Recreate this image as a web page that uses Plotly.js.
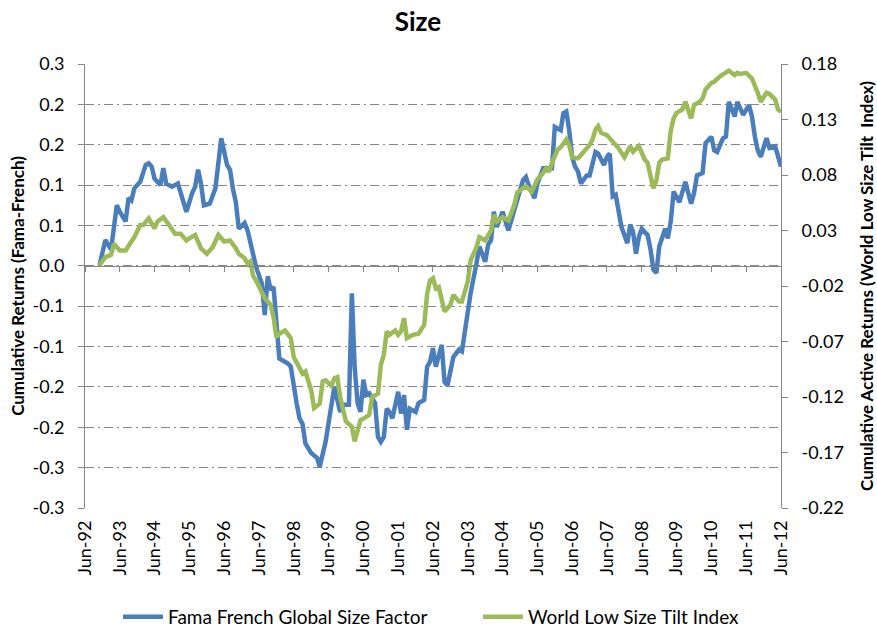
<!DOCTYPE html>
<html>
<head>
<meta charset="utf-8">
<script src="https://cdn.plot.ly/plotly-3.0.1.min.js"></script>
<style>
html,body{margin:0;padding:0;background:#fff;}
#chart{width:877px;height:629px;}
</style>
</head>
<body>
<div id="chart"></div>
<script>
// ---- Data ----
const famaDates = ["1992-11","1993-01","1993-03","1993-05","1993-06","1993-08","1993-09","1993-10","1993-11","1994-01","1994-03","1994-04","1994-05","1994-06","1994-08","1994-09","1994-10","1994-12","1995-02","1995-04","1995-05","1995-07","1995-08","1995-09","1995-10","1995-11","1996-01","1996-03","1996-04","1996-05","1996-07","1996-08","1996-09","1996-10","1996-11","1997-01","1997-02","1997-03","1997-05","1997-07","1997-08","1997-09","1997-10","1997-11","1997-12","1998-01","1998-02","1998-04","1998-05","1998-06","1998-07","1998-08","1998-09","1998-10","1998-11","1998-12","1999-02","1999-03","1999-05","1999-07","1999-08","1999-10","1999-11","2000-01","2000-02","2000-03","2000-04","2000-05","2000-06","2000-07","2000-08","2000-10","2000-11","2000-12","2001-01","2001-02","2001-03","2001-04","2001-06","2001-07","2001-08","2001-09","2001-10","2001-12","2002-01","2002-03","2002-04","2002-05","2002-06","2002-07","2002-09","2002-10","2002-11","2003-01","2003-03","2003-04","2003-06","2003-07","2003-09","2003-10","2003-12","2004-01","2004-02","2004-03","2004-04","2004-06","2004-08","2004-10","2004-11","2005-01","2005-02","2005-03","2005-05","2005-06","2005-08","2005-11","2005-12","2006-02","2006-03","2006-04","2006-05","2006-06","2006-07","2006-08","2006-09","2006-11","2006-12","2007-01","2007-02","2007-03","2007-04","2007-05","2007-06","2007-07","2007-08","2007-09","2007-11","2007-12","2008-01","2008-02","2008-03","2008-04","2008-05","2008-06","2008-08","2008-09","2008-10","2008-11","2008-12","2009-02","2009-03","2009-04","2009-05","2009-07","2009-08","2009-09","2009-11","2009-12","2010-01","2010-03","2010-04","2010-05","2010-06","2010-07","2010-08","2010-10","2010-11","2010-12","2011-02","2011-03","2011-04","2011-05","2011-07","2011-08","2011-09","2011-10","2011-11","2012-01","2012-02","2012-04","2012-06"];
const famaValues = [0.001,0.032,0.020,0.075,0.067,0.055,0.084,0.081,0.096,0.104,0.125,0.127,0.123,0.108,0.100,0.121,0.102,0.098,0.102,0.081,0.067,0.090,0.098,0.119,0.102,0.075,0.077,0.096,0.123,0.158,0.125,0.119,0.095,0.079,0.046,0.053,0.044,0.028,-0.001,-0.022,-0.061,-0.013,-0.030,-0.026,-0.080,-0.115,-0.117,-0.121,-0.125,-0.150,-0.170,-0.189,-0.196,-0.220,-0.226,-0.232,-0.238,-0.249,-0.218,-0.170,-0.150,-0.181,-0.172,-0.172,-0.034,-0.125,-0.170,-0.181,-0.141,-0.160,-0.158,-0.170,-0.212,-0.218,-0.212,-0.177,-0.181,-0.189,-0.156,-0.183,-0.160,-0.203,-0.177,-0.181,-0.170,-0.166,-0.125,-0.119,-0.102,-0.125,-0.098,-0.144,-0.148,-0.113,-0.104,-0.106,-0.060,-0.034,0.003,0.024,0.005,0.026,0.032,0.067,0.048,0.067,0.044,0.069,0.082,0.106,0.110,0.100,0.084,0.102,0.121,0.121,0.172,0.168,0.189,0.191,0.168,0.135,0.123,0.117,0.102,0.112,0.112,0.127,0.141,0.139,0.130,0.125,0.135,0.139,0.086,0.088,0.048,0.036,0.028,0.051,0.042,0.015,0.036,0.046,0.038,0.020,-0.005,-0.009,0.024,0.046,0.034,0.055,0.092,0.079,0.094,0.104,0.077,0.090,0.112,0.115,0.152,0.156,0.160,0.143,0.141,0.158,0.160,0.203,0.185,0.203,0.193,0.187,0.199,0.185,0.160,0.143,0.135,0.158,0.146,0.148,0.123];

const tiltDates = ["1992-11","1993-01","1993-03","1993-04","1993-06","1993-08","1993-10","1993-11","1994-01","1994-02","1994-04","1994-06","1994-07","1994-09","1994-11","1995-01","1995-03","1995-05","1995-06","1995-08","1995-10","1995-12","1996-02","1996-04","1996-06","1996-08","1996-10","1996-11","1997-01","1997-02","1997-03","1997-04","1997-05","1997-07","1997-08","1997-10","1997-11","1997-12","1998-01","1998-03","1998-05","1998-06","1998-08","1998-09","1998-10","1998-12","1999-01","1999-03","1999-04","1999-05","1999-07","1999-08","1999-09","1999-10","1999-12","2000-02","2000-03","2000-05","2000-07","2000-08","2000-09","2000-11","2000-12","2001-01","2001-02","2001-03","2001-05","2001-06","2001-07","2001-08","2001-09","2001-11","2002-01","2002-03","2002-04","2002-05","2002-06","2002-07","2002-08","2002-10","2002-12","2003-01","2003-03","2003-04","2003-06","2003-07","2003-09","2003-10","2003-12","2004-02","2004-03","2004-04","2004-06","2004-08","2004-10","2004-11","2005-01","2005-02","2005-04","2005-06","2005-08","2005-09","2005-10","2005-11","2006-01","2006-02","2006-04","2006-05","2006-06","2006-08","2006-09","2006-10","2006-12","2007-01","2007-02","2007-03","2007-04","2007-06","2007-07","2007-09","2007-10","2007-12","2008-02","2008-03","2008-04","2008-05","2008-07","2008-08","2008-09","2008-10","2008-11","2008-12","2009-01","2009-03","2009-04","2009-05","2009-06","2009-08","2009-09","2009-10","2009-11","2009-12","2010-02","2010-03","2010-04","2010-06","2010-07","2010-09","2010-11","2010-12","2011-02","2011-03","2011-04","2011-06","2011-08","2011-09","2011-10","2011-11","2011-12","2012-01","2012-02","2012-04","2012-05","2012-06"];
const tiltValues = [-0.001,0.006,0.008,0.018,0.012,0.012,0.020,0.024,0.035,0.035,0.041,0.032,0.038,0.042,0.035,0.027,0.027,0.021,0.023,0.026,0.014,0.009,0.015,0.026,0.020,0.021,0.014,0.009,0.005,0.000,0.002,-0.011,-0.015,-0.027,-0.031,-0.037,-0.048,-0.066,-0.063,-0.060,-0.067,-0.084,-0.094,-0.099,-0.097,-0.114,-0.130,-0.126,-0.106,-0.105,-0.110,-0.103,-0.102,-0.120,-0.142,-0.147,-0.160,-0.141,-0.138,-0.136,-0.120,-0.117,-0.091,-0.082,-0.061,-0.064,-0.060,-0.064,-0.061,-0.049,-0.067,-0.064,-0.063,-0.055,-0.027,-0.015,-0.013,-0.022,-0.021,-0.043,-0.037,-0.028,-0.034,-0.034,-0.016,0.003,0.015,0.024,0.021,0.030,0.044,0.038,0.042,0.039,0.053,0.064,0.068,0.070,0.065,0.076,0.082,0.086,0.083,0.091,0.103,0.105,0.112,0.107,0.096,0.095,0.098,0.101,0.107,0.112,0.121,0.124,0.118,0.116,0.113,0.106,0.104,0.096,0.106,0.101,0.104,0.106,0.094,0.091,0.079,0.068,0.075,0.091,0.094,0.095,0.120,0.131,0.136,0.139,0.146,0.139,0.131,0.143,0.146,0.149,0.157,0.163,0.164,0.169,0.172,0.174,0.170,0.172,0.171,0.172,0.167,0.161,0.154,0.146,0.150,0.154,0.153,0.148,0.139,0.137];

const xTickDates = ["1992-06-01","1993-06-01","1994-06-01","1995-06-01","1996-06-01","1997-06-01","1998-06-01","1999-06-01","2000-06-01","2001-06-01","2002-06-01","2003-06-01","2004-06-01","2005-06-01","2006-06-01","2007-06-01","2008-06-01","2009-06-01","2010-06-01","2011-06-01","2012-06-01"];
const leftTickVals = [-0.3,-0.25,-0.2,-0.15,-0.1,-0.05,0,0.05,0.1,0.15,0.2,0.25];
const leftTickText = ["-0.3","-0.3","-0.2","-0.2","-0.1","-0.1","0.0","0.1","0.1","0.2","0.2","0.3"];
const rightTickVals = [-0.22,-0.17,-0.12,-0.07,-0.02,0.03,0.08,0.13,0.18];
const rightTickText = ["-0.22","-0.17","-0.12","-0.07","-0.02","0.03","0.08","0.13","0.18"];

const seriesNames = ["Fama French Global Size Factor","World Low Size Tilt Index"];

// ---- Styling ----
const FONT = "Lato, 'Open Sans', sans-serif";
const AXIS_GRAY = "#868686";
const xRange = ["1992-06-01","2012-06-01"];
const leftRange = [-0.3, 0.25];

const traces = [
  {x: famaDates, y: famaValues, name: seriesNames[0], type: "scatter", mode: "lines",
   line: {color: "#4A7EBB", width: 4.5}, xaxis: "x", yaxis: "y", legend: "legend"},
  {x: tiltDates, y: tiltValues, name: seriesNames[1], type: "scatter", mode: "lines",
   line: {color: "#9BBB59", width: 4.5}, xaxis: "x", yaxis: "y2", legend: "legend2"},
  // invisible helper so the zero-crossing axis (x3) is drawn
  {x: xRange, y: [0, 0], type: "scatter", mode: "lines", line: {width: 0},
   xaxis: "x3", yaxis: "y", showlegend: false, hoverinfo: "skip"}
];

const zeroFrac = (0 - leftRange[0]) / (leftRange[1] - leftRange[0]);
const legendFont = {family: FONT, size: 19, color: "#000"};

const layout = {
  width: 877, height: 629,
  margin: {l: 85, r: 96, t: 64, b: 121, autoexpand: false},
  paper_bgcolor: "#fff", plot_bgcolor: "#fff",
  font: {family: FONT, size: 18, color: "#000"},
  title: {text: "<b>Size</b>", font: {family: FONT, size: 26, color: "#000"},
          x: 418/877, xanchor: "center", y: 1 - 22/629, yanchor: "middle"},
  showlegend: true,
  legend: {orientation: "h", x: (118 - 85) / 696, xanchor: "left", y: -0.245, yanchor: "middle",
           font: legendFont, itemwidth: 40},
  legend2: {orientation: "h", x: (478 - 85) / 696, xanchor: "left", y: -0.245, yanchor: "middle",
            font: legendFont, itemwidth: 40},
  xaxis: {type: "date", range: xRange, tickvals: xTickDates, tickformat: "%b-%y",
          tickangle: -90, ticks: "", showline: false, showgrid: false, zeroline: false,
          ticklabelstandoff: 8, automargin: false,
          tickfont: {family: FONT, size: 18, color: "#000"}, fixedrange: true},
  xaxis3: {type: "date", overlaying: "x", matches: "x", anchor: "free", position: zeroFrac,
           tickvals: xTickDates, showticklabels: false, ticks: "outside", ticklen: 5,
           tickcolor: AXIS_GRAY, showline: true, linecolor: AXIS_GRAY, linewidth: 1,
           showgrid: false, zeroline: false},
  yaxis: {range: leftRange, tickvals: leftTickVals, ticktext: leftTickText,
          showline: true, linecolor: AXIS_GRAY, linewidth: 1, ticks: "outside", ticklen: 6,
          tickcolor: AXIS_GRAY, showgrid: true, gridcolor: AXIS_GRAY, gridwidth: 1,
          griddash: "9px,4px,2px,4px", zeroline: false, ticklabelstandoff: 10,
          automargin: false,
          tickfont: {family: FONT, size: 18, color: "#000"},
          title: {text: "<b>Cumulative Returns (Fama-French)</b>", standoff: 3,
                  font: {family: FONT, size: 17, color: "#000"}}},
  yaxis2: {range: [-0.22, 0.18], overlaying: "y", side: "right", anchor: "x",
           tickvals: rightTickVals, ticktext: rightTickText,
           showline: true, linecolor: AXIS_GRAY, linewidth: 1, ticks: "outside", ticklen: 6,
           tickcolor: AXIS_GRAY, showgrid: false, zeroline: false, ticklabelstandoff: 10,
           automargin: false,
           tickfont: {family: FONT, size: 18, color: "#000"},
           title: {text: "<b>Cumulative Active Returns (World Low Size Tilt  Index)</b>", standoff: 18,
                   font: {family: FONT, size: 17, color: "#000"}}}
};

Plotly.newPlot("chart", traces, layout, {displayModeBar: false, staticPlot: true});
</script>
</body>
</html>
